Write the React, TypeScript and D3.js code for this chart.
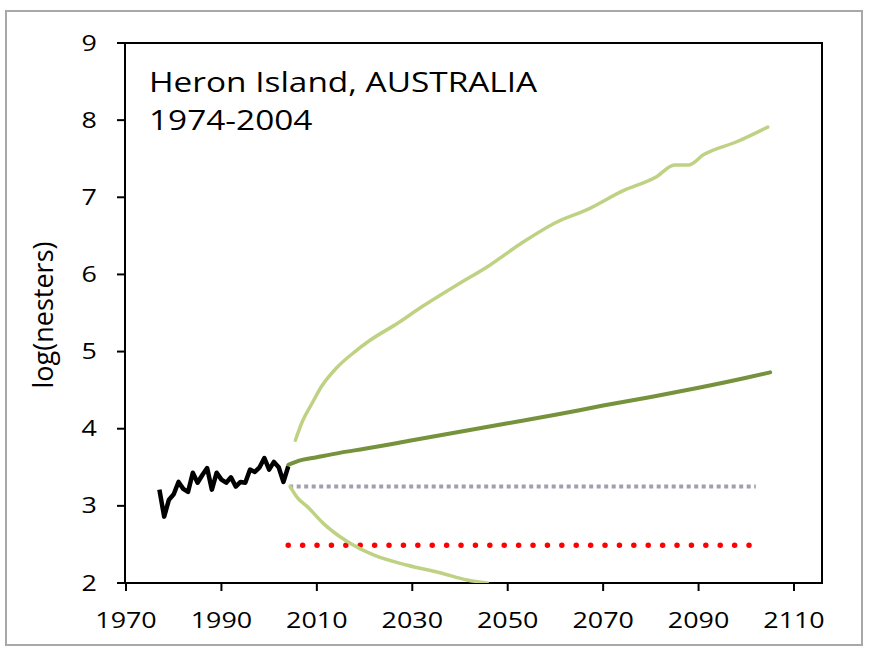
import React from "react";
import * as d3 from "d3";

const observedYears = [1977,1978,1979,1980,1981,1982,1983,1984,1985,1986,1987,1988,1989,1990,1991,1992,1993,1994,1995,1996,1997,1998,1999,2000,2001,2002,2003,2004];
const observedValues = [3.21,2.86,3.08,3.15,3.31,3.22,3.18,3.43,3.30,3.40,3.49,3.21,3.43,3.34,3.30,3.37,3.25,3.31,3.30,3.47,3.44,3.50,3.62,3.47,3.57,3.50,3.31,3.51];

const meanYears = [2004,2006,2010,2015,2020,2030,2040,2050,2060,2070,2080,2090,2100,2105];
const meanValues = [3.53,3.58,3.63,3.69,3.74,3.85,3.96,4.07,4.18,4.30,4.41,4.53,4.66,4.73];

const upperYears = [2005.5,2007,2009,2011,2014,2018,2021,2027,2032,2039,2046,2053,2060,2067,2074,2081,2085,2088,2091,2098,2104.5];
const upperValues = [3.85,4.1,4.33,4.55,4.78,5.0,5.14,5.37,5.58,5.85,6.11,6.41,6.67,6.85,7.08,7.26,7.42,7.42,7.55,7.72,7.91];

const lowerYears = [2004.4,2006,2008,2011.4,2016.3,2022,2029,2036,2041.5,2045.7];
const lowerValues = [3.25,3.10,2.99,2.77,2.54,2.36,2.23,2.13,2.04,2.0];

const greyYears = [2004.2, 2102];
const greyValues = [3.25, 3.25];
const redYears = [2004, 2101];
const redValues = [2.49, 2.49];

const xTicks = [1970,1990,2010,2030,2050,2070,2090,2110];
const yTicks = [2,3,4,5,6,7,8,9];

const titleLines = ["Heron Island, AUSTRALIA", "1974-2004"];
const yLabel = "log(nesters)";

const FONT = "'Open Sans', sans-serif";
const SX = 1.28;

export default function App() {
  const left = 125, right = 822, top = 43, bottom = 583;
  const x = d3.scaleLinear().domain([1970, 2110]).range([126, 794]);
  const y = d3.scaleLinear().domain([2, 9]).range([bottom, top]);

  const zip = (xs: number[], ys: number[]) => xs.map((v, i) => [v, ys[i]] as [number, number]);
  const straight = d3.line<[number, number]>().x(d => x(d[0])).y(d => y(d[1]));
  const smooth = d3.line<[number, number]>().x(d => x(d[0])).y(d => y(d[1])).curve(d3.curveMonotoneX);

  return (
    <svg width={869} height={654} style={{ position: "absolute", left: 0, top: 0, background: "#fff" }}>
      <defs>
        <clipPath id="plot">
          <rect x={left} y={top} width={right - left} height={bottom - top} />
        </clipPath>
      </defs>
      <rect x={6} y={11} width={856} height={634} fill="#fff" stroke="#a8a8a8" strokeWidth={2} />
      <rect x={left} y={top} width={right - left} height={bottom - top} fill="#fff" stroke="#000" strokeWidth={2} />

      <g clipPath="url(#plot)">
        <path d={straight(zip(greyYears, greyValues)) || ""} fill="none" stroke="#a0a0b0" strokeWidth={4} strokeDasharray="4 3.5" />
        <path d={straight(zip(redYears, redValues)) || ""} fill="none" stroke="#ff0000" strokeWidth={5.5} strokeLinecap="round" strokeDasharray="0 14.4" />
        <path d={smooth(zip(upperYears, upperValues)) || ""} fill="none" stroke="#bfd283" strokeWidth={3.5} strokeLinecap="round" />
        <path d={smooth(zip(lowerYears, lowerValues)) || ""} fill="none" stroke="#bfd283" strokeWidth={3.5} strokeLinecap="round" />
        <path d={smooth(zip(meanYears, meanValues)) || ""} fill="none" stroke="#76923c" strokeWidth={4} strokeLinecap="round" />
        <path d={straight(zip(observedYears, observedValues)) || ""} fill="none" stroke="#000" strokeWidth={4.5} strokeLinejoin="round" />
      </g>

      {yTicks.map(t => (
        <g key={"y" + t}>
          <line x1={left - 8} x2={left} y1={y(t)} y2={y(t)} stroke="#000" strokeWidth={2} />
          <text transform={`translate(97, ${y(t)}) scale(${SX}, 1)`} dy="0.36em" textAnchor="end" fontFamily={FONT} fontSize={21} fill="#000">{t}</text>
        </g>
      ))}
      {xTicks.map(t => (
        <g key={"x" + t}>
          <line x1={x(t)} x2={x(t)} y1={bottom} y2={bottom + 8} stroke="#000" strokeWidth={2} />
          <text transform={`translate(${x(t)}, ${bottom + 45}) scale(${SX}, 1)`} textAnchor="middle" fontFamily={FONT} fontSize={21} fill="#000">{t}</text>
        </g>
      ))}

      <text transform={`translate(53, 315) rotate(-90)`} textAnchor="middle" fontFamily={FONT} fontSize={27} fill="#000">{yLabel}</text>

      {titleLines.map((s, i) => (
        <text key={s} transform={`translate(149, ${92 + i * 38}) scale(1.26, 1)`} fontFamily={FONT} fontSize={26.5} fill="#000">{s}</text>
      ))}
    </svg>
  );
}
